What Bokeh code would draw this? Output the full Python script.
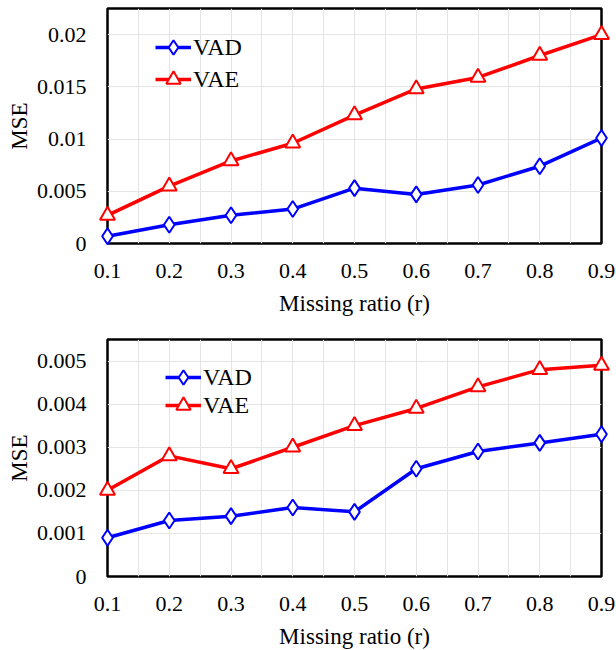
from bokeh.plotting import figure
from bokeh.models import FixedTicker, Legend, LegendItem, Range1d
from bokeh.layouts import column
from bokeh.embed import file_html
from bokeh.resources import INLINE

# ---- data ----
ratios = [0.1, 0.2, 0.3, 0.4, 0.5, 0.6, 0.7, 0.8, 0.9]
x_tick_labels = ["0.1", "0.2", "0.3", "0.4", "0.5", "0.6", "0.7", "0.8", "0.9"]

vad_top = [0.0007, 0.0018, 0.0027, 0.0033, 0.0053, 0.0047, 0.0056, 0.0074, 0.0101]
vae_top = [0.0027, 0.0055, 0.0079, 0.0096, 0.0123, 0.0148, 0.0159, 0.0180, 0.0200]
y_ticks_top = [0, 0.005, 0.01, 0.015, 0.02]
y_labels_top = ["0", "0.005", "0.01", "0.015", "0.02"]

vad_bot = [0.0009, 0.0013, 0.0014, 0.0016, 0.0015, 0.0025, 0.0029, 0.0031, 0.0033]
vae_bot = [0.0020, 0.0028, 0.0025, 0.0030, 0.0035, 0.0039, 0.0044, 0.0048, 0.0049]
y_ticks_bot = [0, 0.001, 0.002, 0.003, 0.004, 0.005]
y_labels_bot = ["0", "0.001", "0.002", "0.003", "0.004", "0.005"]

series_names = ["VAD", "VAE"]
x_label = "Missing ratio (r)"
y_label = "MSE"

FONT = "Liberation Serif"
BLUE = "#0000FF"
RED = "#FF0000"
GRID = "#e4e4e4"
minor_x = [0.1 + 0.05 * i for i in range(17)]


def make_legend(label, renderers, xy):
    return Legend(items=[LegendItem(label=label, renderers=renderers)],
                  location=xy, padding=0, margin=0, spacing=0,
                  border_line_color=None, background_fill_alpha=0,
                  glyph_width=36, glyph_height=36, label_height=36,
                  label_standoff=2, label_text_font=FONT,
                  label_text_font_size="24px", label_text_color="black")


def make_plot(vad, vae, yticks, ylabels, yend, frame_h, top_border, bottom_border,
              legend_x, legend_y1, legend_y2):
    p = figure(frame_width=494, frame_height=frame_h,
               min_border_left=107, min_border_right=14,
               min_border_top=top_border, min_border_bottom=bottom_border,
               x_range=Range1d(0.1, 0.9), y_range=Range1d(0, yend),
               output_backend="svg", toolbar_location=None,
               background_fill_color="white", border_fill_color="white")
    p.outline_line_color = "black"
    p.outline_line_width = 2.5
    p.outline_line_alpha = 1.0

    # grids
    p.xgrid.ticker = FixedTicker(ticks=minor_x)
    p.xgrid.grid_line_color = GRID
    p.xgrid.grid_line_width = 1
    p.ygrid.ticker = FixedTicker(ticks=yticks)
    p.ygrid.grid_line_color = GRID
    p.ygrid.grid_line_width = 1

    # axes
    p.xaxis.ticker = FixedTicker(ticks=ratios)
    p.xaxis.major_label_overrides = {r: l for r, l in zip(ratios, x_tick_labels)}
    p.yaxis.ticker = FixedTicker(ticks=yticks)
    p.yaxis.major_label_overrides = {t: l for t, l in zip(yticks, ylabels)}
    for ax in (p.xaxis, p.yaxis):
        ax.axis_line_color = None
        ax.major_tick_line_color = None
        ax.minor_tick_line_color = None
        ax.major_tick_out = 0
        ax.major_tick_in = 0
        ax.minor_tick_out = 0
        ax.minor_tick_in = 0
        ax.major_label_text_font = FONT
        ax.major_label_text_font_size = "22px"
        ax.major_label_text_color = "black"
        ax.axis_label_text_font = FONT
        ax.axis_label_text_font_size = "23px"
        ax.axis_label_text_font_style = "normal"
        ax.axis_label_text_color = "black"
    p.xaxis.axis_label = x_label
    p.yaxis.axis_label = y_label
    p.xaxis.major_label_standoff = 20
    p.xaxis.axis_label_standoff = 10
    p.yaxis.major_label_standoff = 21
    p.yaxis.axis_label_standoff = 2

    # series
    l1 = p.line(ratios, vad, line_color=BLUE, line_width=3.5)
    m1 = p.scatter(ratios, vad, marker="diamond", size=16,
                   line_color=BLUE, line_width=2, fill_color="white", level="overlay")
    l2 = p.line(ratios, vae, line_color=RED, line_width=3.5)
    m2 = p.scatter(ratios, vae, marker="triangle", size=15,
                   line_color=RED, line_width=2, fill_color="white", level="overlay")

    p.add_layout(make_legend(series_names[0], [l1, m1], (legend_x, legend_y1)), "center")
    p.add_layout(make_legend(series_names[1], [l2, m2], (legend_x, legend_y2)), "center")
    return p


p1 = make_plot(vad_top, vae_top, y_ticks_top, y_labels_top, 0.0225, 235, 8, 88,
               48, 178, 146)
p2 = make_plot(vad_bot, vae_bot, y_ticks_bot, y_labels_bot, 0.0055, 237, 8, 72,
               58, 181, 153)

layout = column(p1, p2, spacing=0)
open("out.html", "w").write(file_html(layout, INLINE))
